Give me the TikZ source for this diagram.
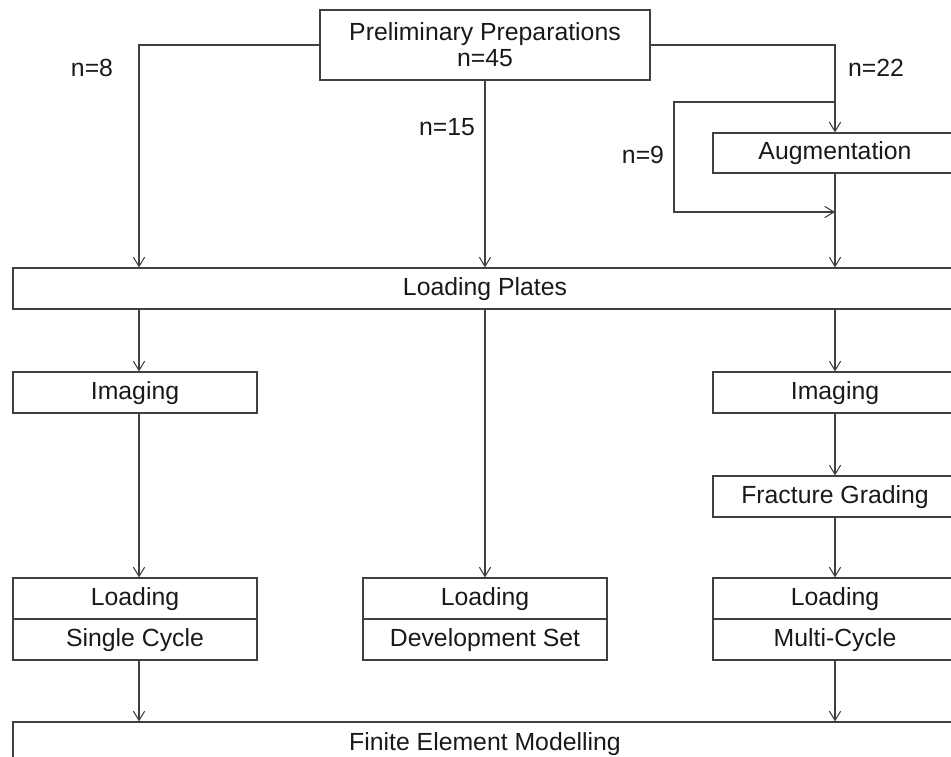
\documentclass[tikz,border=0pt]{standalone}
\usepackage{fontspec}
\setmainfont{Liberation Sans}
\usetikzlibrary{arrows.meta}

\begin{document}
\begin{tikzpicture}[x=0.75pt,y=-0.75pt,
  line width=0.8pt,draw=black!75,
  every node/.style={font=\fontsize{18.6}{19.5}\selectfont,text=black!90},
  box/.style={draw=black!75,inner sep=0pt,minimum width=183pt,minimum height=30.75pt,
    text height=13.5pt,text depth=3.5pt},
  widebox/.style={box,minimum width=708pt},
  arr/.style={-{Straight Barb[length=7pt,width=8.5pt]}}]
  \useasboundingbox (0,0) rectangle (951,757);
  \clip (0,0) rectangle (951,757);

  % Draw the boxes
  \node[draw=black!75,inner sep=0pt,minimum width=247.5pt,minimum height=52.5pt,align=center] (prep) at (485,45) {Preliminary Preparations\\n=45};
  \node[box,minimum height=30pt] (aug) at (835,153) {Augmentation};
  \node[widebox] (plates) at (485,288.5) {Loading Plates};
  \node[box] (img1) at (135,392.5) {Imaging};
  \node[box] (img2) at (835,392.5) {Imaging};
  \node[box] (frac) at (835,496.5) {Fracture Grading};
  \node[box] (load1) at (135,598.5) {Loading};
  \node[box] (single) at (135,639.5) {Single Cycle};
  \node[box] (load2) at (485,598.5) {Loading};
  \node[box] (devset) at (485,639.5) {Development Set};
  \node[box] (load3) at (835,598.5) {Loading};
  \node[box] (multi) at (835,639.5) {Multi-Cycle};
  \node[widebox,minimum height=33pt] (fem) at (485,744) {Finite Element Modelling};

  % Draw the group sizes
  \node (n8) at (92,68) {n=8};
  \node (n22) at (876,68) {n=22};
  \node (n15) at (447,127) {n=15};
  \node (n9) at (643,155) {n=9};

  % Column lines
  \coordinate (colA) at (139,0);
  \coordinate (split) at (835,102);
  \coordinate (join) at (835,212);

  % Draw the arrows from the preparations
  \draw[arr] (prep.west) -| (colA |- plates.north);
  \draw[arr] (prep.south) -- (plates.north -| prep.south);
  \draw[arr] (prep.east) -| (aug.north);
  \draw[arr] (split) -- ++(-161,0) |- (join);
  \draw[arr] (aug.south) -- (plates.north -| aug.south);

  % Draw the arrows below the plates
  \draw[arr] (colA |- plates.south) -- (colA |- img1.north);
  \draw[arr] (plates.south) -- (load2.north);
  \draw[arr] (plates.south -| img2.north) -- (img2.north);
  \draw[arr] (colA |- img1.south) -- (colA |- load1.north);
  \draw[arr] (img2.south) -- (frac.north);
  \draw[arr] (frac.south) -- (load3.north);
  \draw[arr] (colA |- single.south) -- (colA |- fem.north);
  \draw[arr] (multi.south) -- (fem.north -| multi.south);
\end{tikzpicture}
\end{document}
